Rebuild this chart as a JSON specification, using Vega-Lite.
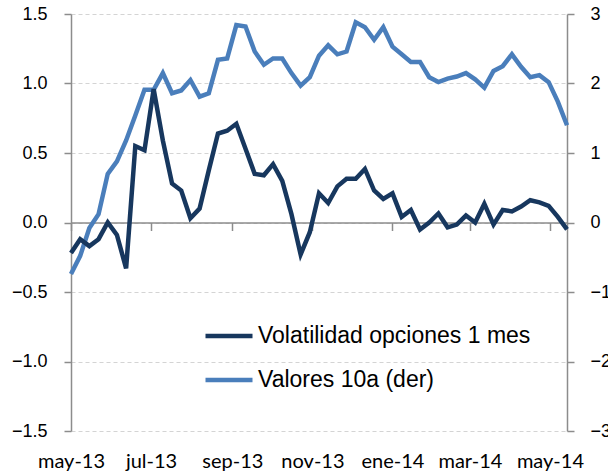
{
  "$schema": "https://vega.github.io/schema/vega-lite/v6.json",
  "width": 496,
  "height": 417,
  "autosize": "none",
  "padding": {"left": 71, "top": 14, "right": 41, "bottom": 43},
  "background": "white",
  "config": {"view": {"stroke": null}, "font": "Liberation Sans"},
  "data": {"values": [
    {"date": "2013-05-01", "vol": -0.22, "val": -0.74},
    {"date": "2013-05-08", "vol": -0.12, "val": -0.48},
    {"date": "2013-05-15", "vol": -0.17, "val": -0.08},
    {"date": "2013-05-22", "vol": -0.12, "val": 0.12},
    {"date": "2013-05-29", "vol": 0.0, "val": 0.70},
    {"date": "2013-06-05", "vol": -0.09, "val": 0.88},
    {"date": "2013-06-12", "vol": -0.33, "val": 1.18},
    {"date": "2013-06-19", "vol": 0.55, "val": 1.54},
    {"date": "2013-06-26", "vol": 0.52, "val": 1.91},
    {"date": "2013-07-03", "vol": 0.96, "val": 1.91},
    {"date": "2013-07-10", "vol": 0.59, "val": 2.15},
    {"date": "2013-07-17", "vol": 0.28, "val": 1.86},
    {"date": "2013-07-24", "vol": 0.23, "val": 1.90},
    {"date": "2013-07-31", "vol": 0.03, "val": 2.05},
    {"date": "2013-08-07", "vol": 0.10, "val": 1.81},
    {"date": "2013-08-14", "vol": 0.375, "val": 1.86},
    {"date": "2013-08-21", "vol": 0.64, "val": 2.34},
    {"date": "2013-08-28", "vol": 0.66, "val": 2.36},
    {"date": "2013-09-04", "vol": 0.71, "val": 2.84},
    {"date": "2013-09-11", "vol": 0.53, "val": 2.82},
    {"date": "2013-09-18", "vol": 0.35, "val": 2.46},
    {"date": "2013-09-25", "vol": 0.34, "val": 2.27},
    {"date": "2013-10-02", "vol": 0.42, "val": 2.36},
    {"date": "2013-10-09", "vol": 0.30, "val": 2.36},
    {"date": "2013-10-16", "vol": 0.06, "val": 2.15},
    {"date": "2013-10-23", "vol": -0.23, "val": 1.97},
    {"date": "2013-10-30", "vol": -0.07, "val": 2.09},
    {"date": "2013-11-06", "vol": 0.21, "val": 2.40},
    {"date": "2013-11-13", "vol": 0.14, "val": 2.55},
    {"date": "2013-11-20", "vol": 0.26, "val": 2.42},
    {"date": "2013-11-27", "vol": 0.315, "val": 2.46},
    {"date": "2013-12-04", "vol": 0.315, "val": 2.88},
    {"date": "2013-12-11", "vol": 0.385, "val": 2.81},
    {"date": "2013-12-18", "vol": 0.23, "val": 2.63},
    {"date": "2013-12-25", "vol": 0.17, "val": 2.81},
    {"date": "2014-01-01", "vol": 0.21, "val": 2.53},
    {"date": "2014-01-08", "vol": 0.04, "val": 2.42},
    {"date": "2014-01-15", "vol": 0.09, "val": 2.31},
    {"date": "2014-01-22", "vol": -0.05, "val": 2.31},
    {"date": "2014-01-29", "vol": 0.0, "val": 2.09},
    {"date": "2014-02-05", "vol": 0.065, "val": 2.02},
    {"date": "2014-02-12", "vol": -0.035, "val": 2.07},
    {"date": "2014-02-19", "vol": -0.015, "val": 2.10},
    {"date": "2014-02-26", "vol": 0.05, "val": 2.15},
    {"date": "2014-03-05", "vol": 0.0, "val": 2.06},
    {"date": "2014-03-12", "vol": 0.135, "val": 1.94},
    {"date": "2014-03-19", "vol": -0.015, "val": 2.18},
    {"date": "2014-03-26", "vol": 0.09, "val": 2.25},
    {"date": "2014-04-02", "vol": 0.08, "val": 2.42},
    {"date": "2014-04-09", "vol": 0.115, "val": 2.24},
    {"date": "2014-04-16", "vol": 0.16, "val": 2.09},
    {"date": "2014-04-23", "vol": 0.145, "val": 2.12},
    {"date": "2014-04-30", "vol": 0.12, "val": 2.02},
    {"date": "2014-05-07", "vol": 0.04, "val": 1.74},
    {"date": "2014-05-14", "vol": -0.05, "val": 1.40}
  ]},
  "encoding": {
    "x": {
      "field": "date",
      "type": "temporal",
      "scale": {
        "type": "utc",
        "domain": [
          {"year": 2013, "month": 5, "date": 1, "utc": true},
          {"year": 2014, "month": 5, "date": 14, "utc": true}
        ]
      },
      "axis": {
        "title": null,
        "orient": "bottom",
        "offset": -208.5,
        "values": [
          {"year": 2013, "month": 5, "date": 1, "utc": true},
          {"year": 2013, "month": 7, "date": 1, "utc": true},
          {"year": 2013, "month": 9, "date": 1, "utc": true},
          {"year": 2013, "month": 11, "date": 1, "utc": true},
          {"year": 2014, "month": 1, "date": 1, "utc": true},
          {"year": 2014, "month": 3, "date": 1, "utc": true},
          {"year": 2014, "month": 5, "date": 1, "utc": true}
        ],
        "labelExpr": "['ene','feb','mar','abr','may','jun','jul','ago','sep','oct','nov','dic'][utcmonth(datum.value)] + '-' + utcFormat(datum.value, '%y')",
        "grid": false,
        "domainColor": "#8c8c8c",
        "domainWidth": 1.5,
        "tickColor": "#8c8c8c",
        "tickWidth": 1.5,
        "tickSize": 8,
        "labelPadding": 221,
        "labelFont": "Lato",
        "labelFontSize": 20,
        "labelColor": "#000000",
        "labelFlush": false,
        "labelOverlap": false
      }
    }
  },
  "layer": [
    {
      "mark": {"type": "line", "strokeWidth": 4.5, "interpolate": "linear"},
      "encoding": {
        "y": {
          "field": "val",
          "type": "quantitative",
          "scale": {"domain": [-3, 3], "nice": false, "zero": false},
          "axis": {
            "title": null,
            "orient": "right",
            "values": [-3, -2, -1, 0, 1, 2, 3],
            "format": "d",
            "grid": false,
            "domainColor": "#8c8c8c",
            "domainWidth": 1.5,
            "tickColor": "#8c8c8c",
            "tickWidth": 1.5,
            "tickSize": 7,
            "labelPadding": 16,
            "labelFontSize": 18,
            "labelColor": "#000000"
          }
        },
        "color": {
          "datum": "Valores 10a (der)",
          "type": "nominal",
          "scale": {
            "domain": ["Volatilidad opciones 1 mes", "Valores 10a (der)"],
            "range": ["#17375E", "#4A7EBB"]
          },
          "legend": {
            "title": null,
            "orient": "none",
            "legendX": 132,
            "legendY": 296,
            "padding": 0,
            "symbolType": "stroke",
            "symbolSize": 2209,
            "symbolStrokeWidth": 4.5,
            "labelFontSize": 23,
            "labelFont": "Liberation Sans",
            "labelColor": "#000000",
            "labelOffset": 3,
            "labelLimit": 0,
            "rowPadding": 6
          }
        }
      }
    },
    {
      "mark": {"type": "line", "strokeWidth": 4.5, "interpolate": "linear"},
      "encoding": {
        "y": {
          "field": "vol",
          "type": "quantitative",
          "scale": {"domain": [-1.5, 1.5], "nice": false, "zero": false},
          "axis": {
            "title": null,
            "orient": "left",
            "values": [-1.5, -1, -0.5, 0, 0.5, 1, 1.5],
            "format": ".1f",
            "grid": true,
            "gridColor": "#d4d4d4",
            "gridDash": [4, 3],
            "gridWidth": 1.2,
            "domainColor": "#8c8c8c",
            "domainWidth": 1.5,
            "tickColor": "#8c8c8c",
            "tickWidth": 1.5,
            "tickSize": 7,
            "labelPadding": 17,
            "labelFontSize": 18,
            "labelColor": "#000000"
          }
        },
        "color": {"datum": "Volatilidad opciones 1 mes", "type": "nominal"}
      }
    }
  ],
  "resolve": {"scale": {"y": "independent"}}
}
